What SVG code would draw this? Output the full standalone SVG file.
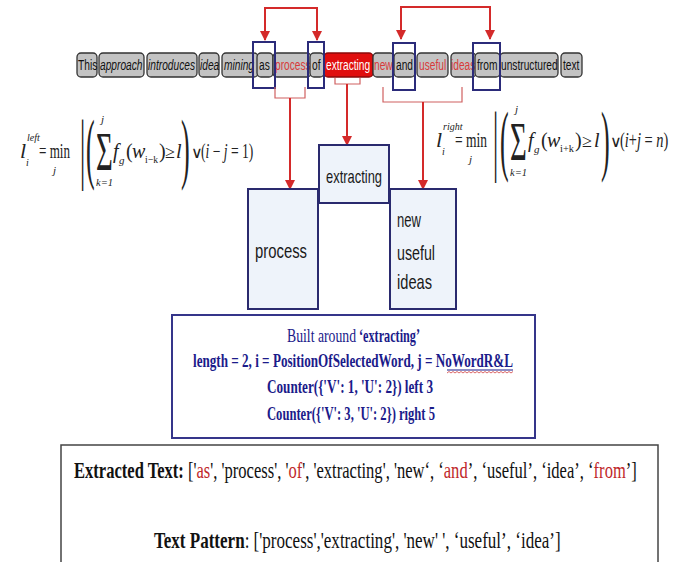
<svg xmlns="http://www.w3.org/2000/svg" width="674" height="562" viewBox="0 0 674 562">
<defs>
<style>
.tok{fill:#c3c3c3;stroke:#333;stroke-width:1.3}
.tt{font-family:"Liberation Sans",Arial,sans-serif;font-size:15px;fill:#111}
.it{font-style:italic}
.rt{fill:#d83a3a}
.hl{fill:none;stroke:#2b2b7a;stroke-width:2}
.arr{fill:none;stroke:#d42a2a;stroke-width:2}
.brk{fill:none;stroke:#d06060;stroke-width:1.2}
.fm{font-family:"Liberation Serif",serif;fill:#222}
.fi{font-family:"Liberation Serif",serif;fill:#222;font-style:italic}
.nb{fill:#eef3fa;stroke:#2a2a6e;stroke-width:2}
.nt{font-family:"Liberation Sans",Arial,sans-serif;fill:#1a1a1a}
.bx{fill:#fff;stroke:#35358a;stroke-width:2}
.bt{font-family:"Liberation Serif",serif;font-size:19px;fill:#1b1b8a;font-weight:bold}
.ot{font-family:"Liberation Serif",serif;font-size:24px;fill:#111}
.red{fill:#c0282a}
</style>
<marker id="ah" viewBox="0 0 10 10" refX="9" refY="5" markerWidth="5" markerHeight="5" orient="auto-start-reverse">
<path d="M0,0 L10,5 L0,10 z" fill="#d42a2a"/>
</marker>
</defs>
<rect width="674" height="562" fill="#fff"/>

<g id="tokens">
<rect class="tok" x="77" y="53" width="20" height="24" rx="4"/><text class="tt" transform="translate(78,70) scale(0.68,1)">This</text>
<rect class="tok" x="99" y="53" width="45" height="24" rx="4"/><text class="tt it" transform="translate(100,70) scale(0.68,1)">approach</text>
<rect class="tok" x="147" y="53" width="50" height="24" rx="4"/><text class="tt it" transform="translate(148,70) scale(0.68,1)">introduces</text>
<rect class="tok" x="199" y="53" width="20" height="24" rx="4"/><text class="tt it" transform="translate(200,70) scale(0.68,1)">idea</text>
<rect class="tok" x="222" y="53" width="36" height="24" rx="4"/><text class="tt it" transform="translate(224,70) scale(0.68,1)">mining</text>
<rect class="tok" x="257" y="53" width="16" height="24" rx="4"/><text class="tt" transform="translate(259,70) scale(0.68,1)">as</text>
<rect class="tok" x="273" y="53" width="38" height="24" rx="4"/><text class="tt rt" transform="translate(275,70) scale(0.68,1)">process</text>
<rect class="tok" x="310" y="53" width="14" height="24" rx="4"/><text class="tt" transform="translate(312,70) scale(0.68,1)">of</text>
<rect x="324" y="53" width="49" height="24" rx="4" fill="#e00e0e" stroke="#8a0a0a" stroke-width="1.3"/><text class="tt" transform="translate(326,70) scale(0.68,1)" style="fill:#fff">extracting</text>
<rect class="tok" x="373" y="53" width="21" height="24" rx="4"/><text class="tt rt" transform="translate(374,70) scale(0.68,1)">new</text>
<rect class="tok" x="394" y="53" width="21" height="24" rx="4"/><text class="tt" transform="translate(396,70) scale(0.68,1)">and</text>
<rect class="tok" x="417" y="53" width="31" height="24" rx="4"/><text class="tt rt" transform="translate(419,70) scale(0.68,1)">useful</text>
<rect class="tok" x="451" y="53" width="25" height="24" rx="4"/><text class="tt rt" transform="translate(451,70) scale(0.68,1)">ideas</text>
<rect class="tok" x="475" y="53" width="25" height="24" rx="4"/><text class="tt" transform="translate(477,70) scale(0.68,1)">from</text>
<rect class="tok" x="500" y="53" width="58" height="24" rx="4"/><text class="tt" transform="translate(501,70) scale(0.68,1)">unstructured</text>
<rect class="tok" x="561" y="53" width="21" height="24" rx="4"/><text class="tt" transform="translate(563,70) scale(0.68,1)">text</text>
</g>

<g id="highlights">
<rect class="hl" x="253" y="42" width="22" height="46"/>
<rect class="hl" x="308" y="42" width="16" height="46"/>
<rect class="hl" x="393" y="43" width="22" height="47"/>
<rect class="hl" x="473" y="43" width="27" height="47"/>
</g>

<g id="connectors">
<path class="arr" d="M265,40 V8 H317 V40" marker-start="url(#ah)" marker-end="url(#ah)"/>
<path class="arr" d="M401,39 V7 H490 V39" marker-start="url(#ah)" marker-end="url(#ah)"/>
<path class="brk" d="M275,87 V98 H305 V87"/>
<path class="brk" d="M335,78 V84 H360 V78"/>
<path class="brk" d="M383,87 V102 H462 V87"/>
<path class="arr" d="M290,98 V189" marker-end="url(#ah)"/>
<path class="arr" d="M347,84 V145" marker-end="url(#ah)"/>
<path class="arr" d="M423,102 V189" marker-end="url(#ah)"/>
</g>

<g id="formula-left">
<text class="fi" x="20" y="158" font-size="22">l</text>
<text class="fi" x="27" y="141" font-size="10">left</text>
<text class="fi" x="26" y="166" font-size="10">i</text>
<text class="fm" x="39" y="158" font-size="20" textLength="31" lengthAdjust="spacingAndGlyphs">= min</text>
<text class="fi" x="53" y="174" font-size="11">j</text>
<text class="fm" transform="translate(80,174) scale(1,3)" font-size="26">|</text>
<text class="fm" transform="translate(86,174) scale(1,3)" font-size="26">(</text>
<text class="fm" transform="translate(96,170) scale(0.8,1.55)" font-size="36">Σ</text>
<text class="fi" x="101" y="123" font-size="11">j</text>
<text class="fi" x="96" y="186" font-size="11" textLength="17" lengthAdjust="spacingAndGlyphs">k=1</text>
<text class="fi" x="113" y="158" font-size="20">f</text>
<text class="fi" x="119" y="164" font-size="11">g</text>
<text class="fm" x="126" y="158" font-size="20">(</text>
<text class="fi" x="132" y="158" font-size="20">w</text>
<text class="fm" x="145" y="163" font-size="11" textLength="13" lengthAdjust="spacingAndGlyphs">i−k</text>
<text class="fm" x="159" y="158" font-size="20">)</text>
<text class="fm" x="165" y="158" font-size="18">≥</text>
<text class="fi" x="176" y="158" font-size="20">l</text>
<text class="fm" transform="translate(181,174) scale(1,3)" font-size="26">)</text>
<text class="fm" x="191" y="158" font-size="16">∨</text>
<text class="fm" transform="translate(201,158) scale(0.68,1)" font-size="20">(<tspan class="fi">i</tspan> − <tspan class="fi">j</tspan> = 1)</text>
</g>

<g id="formula-right">
<text class="fi" x="436" y="147" font-size="22">l</text>
<text class="fi" x="443" y="130" font-size="10">right</text>
<text class="fi" x="442" y="155" font-size="10">i</text>
<text class="fm" x="455" y="147" font-size="20" textLength="32" lengthAdjust="spacingAndGlyphs">= min</text>
<text class="fi" x="469" y="163" font-size="11">j</text>
<text class="fm" transform="translate(493,166) scale(1,3)" font-size="26">|</text>
<text class="fm" transform="translate(500,166) scale(1,3)" font-size="26">(</text>
<text class="fm" transform="translate(510,160) scale(0.8,1.55)" font-size="36">Σ</text>
<text class="fi" x="515" y="113" font-size="11">j</text>
<text class="fi" x="510" y="176" font-size="11" textLength="17" lengthAdjust="spacingAndGlyphs">k=1</text>
<text class="fi" x="528" y="147" font-size="20">f</text>
<text class="fi" x="534" y="153" font-size="11">g</text>
<text class="fm" x="541" y="147" font-size="20">(</text>
<text class="fi" x="547" y="147" font-size="20">w</text>
<text class="fm" x="560" y="152" font-size="11" textLength="14" lengthAdjust="spacingAndGlyphs">i+k</text>
<text class="fm" x="575" y="147" font-size="20">)</text>
<text class="fm" x="582" y="147" font-size="18">≥</text>
<text class="fi" x="594" y="147" font-size="20">l</text>
<text class="fm" transform="translate(601,166) scale(1,3)" font-size="26">)</text>
<text class="fm" x="610" y="147" font-size="16">∨</text>
<text class="fm" transform="translate(620,147) scale(0.72,1)" font-size="20">(<tspan class="fi">i</tspan>+<tspan class="fi">j</tspan> = <tspan class="fi">n</tspan>)</text>
</g>

<g id="node-process">
<rect class="nb" x="248" y="189" width="70" height="120"/>
<text class="nt" x="255" y="258" font-size="21" textLength="52" lengthAdjust="spacingAndGlyphs">process</text>
</g>
<g id="node-new">
<rect class="nb" x="390" y="189" width="66" height="120"/>
<text class="nt" x="397" y="227" font-size="21" textLength="24" lengthAdjust="spacingAndGlyphs">new</text>
<text class="nt" x="397" y="260" font-size="21" textLength="38" lengthAdjust="spacingAndGlyphs">useful</text>
<text class="nt" x="397" y="289" font-size="21" textLength="35" lengthAdjust="spacingAndGlyphs">ideas</text>
</g>
<g id="node-extracting">
<rect class="nb" x="319" y="145" width="70" height="58"/>
<text class="nt" x="326" y="183" font-size="19" textLength="56" lengthAdjust="spacingAndGlyphs">extracting</text>
</g>

<g id="node-built">
<rect class="bx" x="172" y="315" width="363" height="123"/>
<text class="bt" x="287" y="342" style="font-weight:normal" textLength="69" lengthAdjust="spacingAndGlyphs">Built around</text>
<text class="bt" x="359" y="342" textLength="61" lengthAdjust="spacingAndGlyphs">‘extracting’</text>
<text class="bt" x="193" y="367" textLength="320" lengthAdjust="spacingAndGlyphs">length = 2,  i = PositionOfSelectedWord,  j = NoWordR&amp;L</text>
<line x1="447" y1="370" x2="513" y2="370" stroke="#1b1b8a" stroke-width="1"/>
<path d="M447,373 l2,-1.5 l2,1.5 l2,-1.5 l2,1.5 l2,-1.5 l2,1.5 l2,-1.5 l2,1.5 l2,-1.5 l2,1.5 l2,-1.5 l2,1.5 l2,-1.5 l2,1.5 l2,-1.5 l2,1.5 l2,-1.5 l2,1.5 l2,-1.5 l2,1.5 l2,-1.5 l2,1.5 l2,-1.5 l2,1.5 l2,-1.5 l2,1.5 l2,-1.5 l2,1.5 l2,-1.5 l2,1.5 l2,-1.5 l2,1.5 l2,-1.5" fill="none" stroke="#d04040" stroke-width="0.8"/>
<text class="bt" x="267" y="393" textLength="166" lengthAdjust="spacingAndGlyphs">Counter({'V': 1, 'U': 2}) left 3</text>
<text class="bt" x="267" y="420" textLength="168" lengthAdjust="spacingAndGlyphs">Counter({'V': 3, 'U': 2}) right 5</text>
</g>

<g id="node-output">
<rect x="61" y="445" width="597" height="130" fill="#fff" stroke="#444" stroke-width="1.5"/>
<text class="ot" transform="translate(74,478) scale(0.69,1)"><tspan font-weight="bold">Extracted Text: </tspan>['<tspan class="red">as</tspan>', 'process', '<tspan class="red">of</tspan>', 'extracting',  'new‘, ‘<tspan class="red">and</tspan>’, ‘useful’, ‘idea’, ‘<tspan class="red">from</tspan>’]</text>
<text class="ot" transform="translate(154,548) scale(0.71,1)"><tspan font-weight="bold">Text Pattern</tspan>: ['process','extracting', 'new' ', ‘useful’, ‘idea’]</text>
</g>
</svg>
